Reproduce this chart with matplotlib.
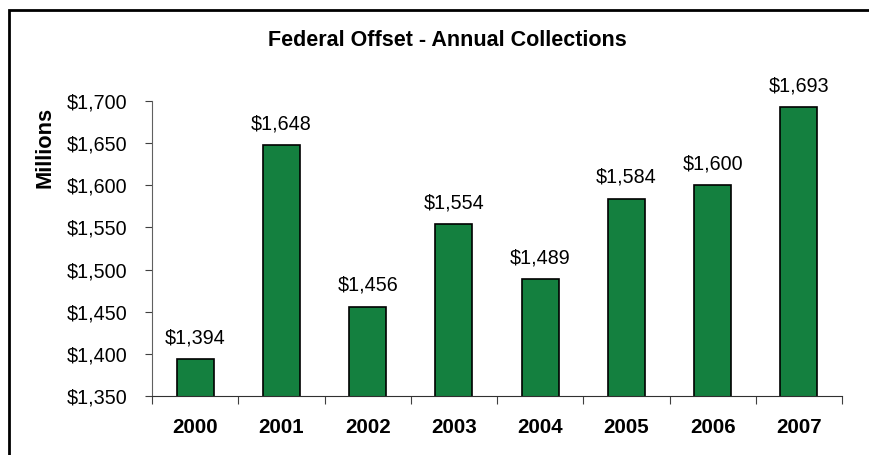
import matplotlib
matplotlib.use("Agg")
import matplotlib.pyplot as plt
from matplotlib.patches import Rectangle
from matplotlib.ticker import FuncFormatter

years = ["2000", "2001", "2002", "2003", "2004", "2005", "2006", "2007"]
collections = [1394, 1648, 1456, 1554, 1489, 1584, 1600, 1693]
yticks = [1350, 1400, 1450, 1500, 1550, 1600, 1650, 1700]

plt.rcParams['font.family'] = ['Liberation Sans', 'DejaVu Sans']

W, H = 870, 455
fig = plt.figure(figsize=(W / 100, H / 100), dpi=100)
ax = fig.add_axes([152 / W, 1 - 396 / H, (842 - 152) / W, (396 - 101) / H])

x = list(range(len(years)))
ax.bar(x, collections, width=0.43, color="#14803f", edgecolor="black",
       linewidth=1.2, zorder=2)
for xi, v in zip(x, collections):
    ax.text(xi, v + 14, "${:,}".format(v), ha="center", va="bottom", fontsize=14.2)

ax.set_xlim(-0.5, len(years) - 0.5)
ax.set_ylim(1350, 1700)
ax.set_yticks(yticks)
ax.yaxis.set_major_formatter(FuncFormatter(lambda v, p: "${:,.0f}".format(v)))
ax.set_xticks([i + 0.5 for i in range(-1, len(years))])
ax.set_xticklabels([])
ax.set_xticks(x, minor=True)
ax.set_xticklabels(years, minor=True, fontsize=14.8, fontweight="bold")
ax.tick_params(axis="x", which="minor", length=0, pad=16)
ax.tick_params(axis="x", which="major", length=6, color="#404040")
ax.tick_params(axis="y", length=5, labelsize=14.2, pad=13, color="#404040")

for s in ["top", "right"]:
    ax.spines[s].set_visible(False)
ax.spines["left"].set_color("#606060")
ax.spines["bottom"].set_color("#303030")

fig.text(447 / W, 1 - 40 / H, "Federal Offset - Annual Collections",
         ha="center", va="center", fontsize=15.5, fontweight="bold")
fig.text(45 / W, 1 - 147 / H, "Millions", rotation=90, ha="center",
         va="center", fontsize=15.7, fontweight="bold")

# outer border (left and top edges visible)
fig.patches.append(Rectangle((9 / W, -0.1), 1.2, 1 - 10 / H + 0.1,
                             transform=fig.transFigure, fill=False,
                             edgecolor="black", linewidth=2))

fig.savefig("out.png", dpi=100)
